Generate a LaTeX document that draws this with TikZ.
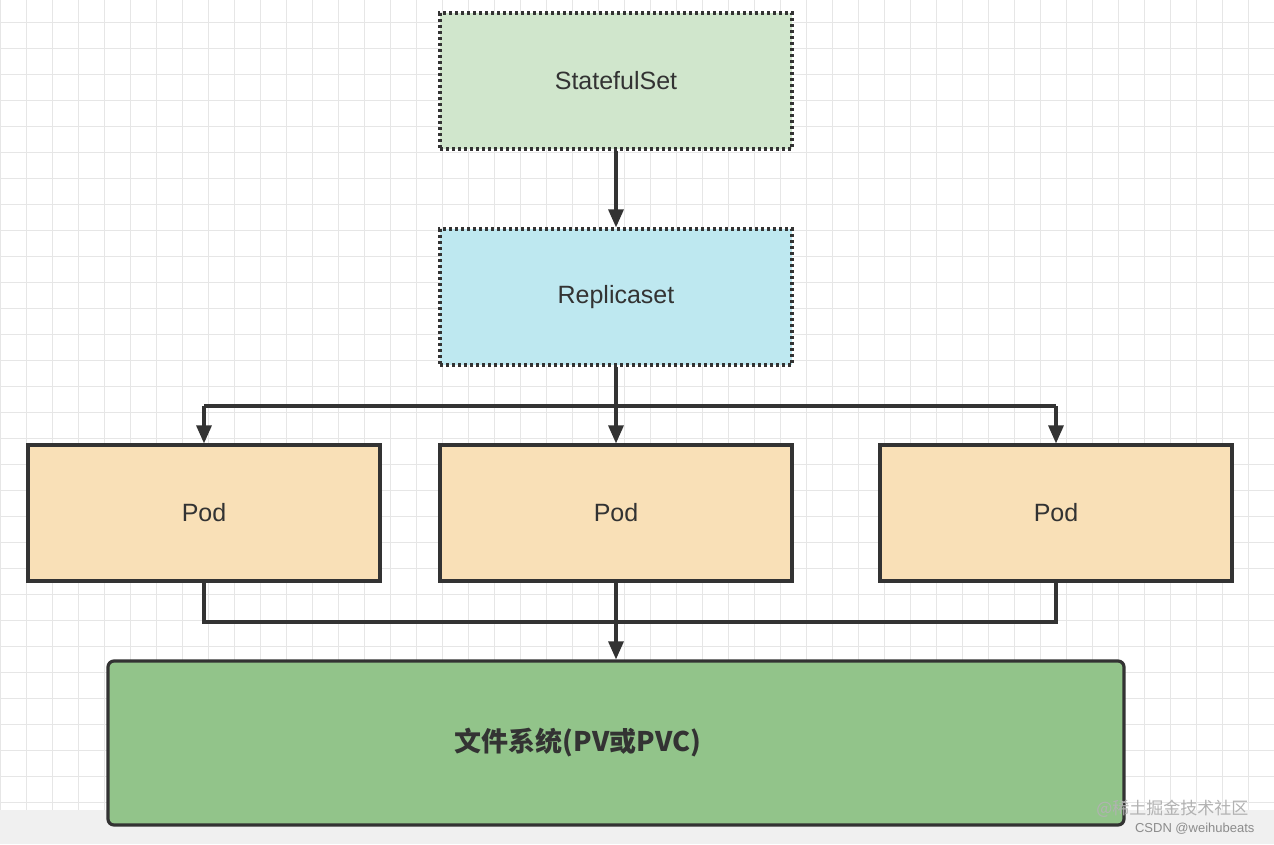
\documentclass[tikz,border=0pt]{standalone}
\usepackage{fontspec}
\setmainfont{Liberation Sans}
\newfontfamily\cjk{Noto Sans CJK SC}
\usetikzlibrary{arrows.meta}
\definecolor{gridc}{HTML}{E6E6E6}
\definecolor{ssfill}{HTML}{D0E6CC}
\definecolor{rsfill}{HTML}{BEE8F0}
\definecolor{podfill}{HTML}{F9E0B7}
\definecolor{fsfill}{HTML}{92C48A}
\definecolor{linec}{HTML}{333333}
\begin{document}
\begin{tikzpicture}[x=1pt,y=-1pt,
  box/.style={draw=linec,line width=3.2pt,minimum width=352pt,minimum height=136pt,inner sep=0pt,font=\fontsize{25}{30}\selectfont,text=linec},
  dotbox/.style={box,dash pattern=on 3pt off 3pt},
  arr/.style={draw=linec,line width=3.2pt,-{Triangle[length=18pt,width=15pt]}},
  ln/.style={draw=linec,line width=3.2pt}]
\useasboundingbox (0,0) rectangle (1274,844);
\fill[white] (0,0) rectangle (1274,844);
\fill[gridc!60] (0,810) rectangle (1274,844);
\foreach \x in {0,26,...,1274} \draw[gridc,line width=1pt] (\x,0) -- (\x,810);
\foreach \y in {22,48,...,810} \draw[gridc,line width=1pt] (0,\y) -- (1274,\y);
\node[dotbox,fill=ssfill] (ss) at (616,81) {StatefulSet};
\node[dotbox,fill=rsfill] (rs) at (616,297) {Replicaset};
\node[box,fill=podfill] (p1) at (204,513) {Pod};
\node[box,fill=podfill] (p2) at (616,513) {Pod};
\node[box,fill=podfill] (p3) at (1056,513) {Pod};
\node[box,fill=fsfill,rounded corners=6pt,minimum width=1016pt,minimum height=164pt] (fs) at (616,743) {};
\node[font=\cjk\bfseries\fontsize{27}{32}\selectfont,text=linec] (fst) at (578,743) {文件系统(PV或PVC)};
\coordinate (j1) at (204,406);
\coordinate (j2) at (616,406);
\coordinate (j3) at (1056,406);
\coordinate (k1) at (204,622);
\coordinate (k3) at (1056,622);
\draw[arr] (ss) -- (rs);
\draw[ln] (rs.south) -- (j2);
\draw[ln] (j1) -- (j3);
\draw[arr] (j1) -- (p1.north);
\draw[arr] (j2) -- (p2.north);
\draw[arr] (j3) -- (p3.north);
\draw[ln] (p1.south) -- (k1) -- (k3) -- (p3.south);
\draw[arr] (p2.south) -- (fs.north);
\node[font=\cjk\fontsize{17}{19}\selectfont,text=gray!60,anchor=east] (wm1) at (1252,809) {@稀土掘金技术社区};
\node[font=\fontsize{13}{15}\selectfont,text=gray!90,anchor=east] (wm2) at (1258,829) {CSDN @weihubeats};
\end{tikzpicture}
\end{document}
